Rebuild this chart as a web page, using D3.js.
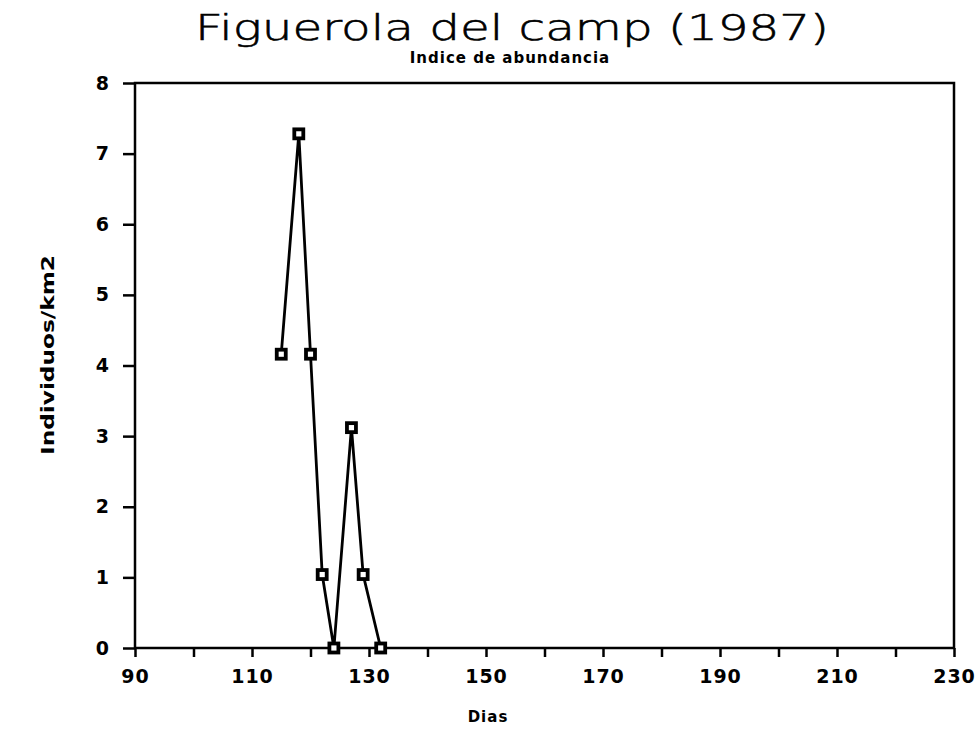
<!DOCTYPE html>
<html>
<head>
<meta charset="utf-8">
<script src="https://cdn.jsdelivr.net/npm/d3@7"></script>
<style>
  html, body { margin: 0; padding: 0; background: #fff; }
  svg { display: block; }
</style>
</head>
<body>
<svg id="chart" width="980" height="737"></svg>
<script>
// Sampling days and abundance index (individuals per km2)
const dias = [115, 118, 120, 122, 124, 127, 129, 132];
const individuos = [4.16, 7.28, 4.16, 1.04, 0, 3.12, 1.04, 0];
const xTicksMajor = [90, 110, 130, 150, 170, 190, 210, 230];
const xTicksMinor = [100, 120, 140, 160, 180, 200, 220];
const yTicks = [0, 1, 2, 3, 4, 5, 6, 7, 8];

const svg = d3.select("#chart");
const margin = { left: 135, right: 26, top: 83, bottom: 89 };
const W = 980, H = 737;

const x = d3.scaleLinear().domain([90, 230]).range([margin.left, W - margin.right]);
const y = d3.scaleLinear().domain([0, 8]).range([H - margin.bottom, margin.top]);

const boldFont = "'DejaVu Sans', Verdana, sans-serif";

// Title block (wide, thin plotter-style lettering)
svg.append("text")
  .attr("x", 512).attr("y", 40)
  .attr("text-anchor", "middle")
  .attr("textLength", 634)
  .attr("lengthAdjust", "spacingAndGlyphs")
  .style("font-family", "'DejaVu Sans', sans-serif")
  .style("font-weight", "200")
  .style("font-size", "36px")
  .style("stroke", "#000")
  .style("stroke-width", "0.6px")
  .text("Figuerola del camp (1987)");

svg.append("text")
  .attr("x", 510).attr("y", 63)
  .attr("text-anchor", "middle")
  .style("font-family", boldFont)
  .style("font-weight", "bold")
  .style("font-size", "15px")
  .style("letter-spacing", "1px")
  .text("Indice de abundancia");

// Plot frame
svg.append("rect")
  .attr("x", x(90)).attr("y", y(8))
  .attr("width", x(230) - x(90)).attr("height", y(0) - y(8))
  .attr("fill", "none").attr("stroke", "#000").attr("stroke-width", 2.5);

// X axis: ticks every 10 days, labels every 20
const xAxis = d3.axisBottom(x)
  .tickValues(xTicksMajor.concat(xTicksMinor).sort((a, b) => a - b))
  .tickSize(9)
  .tickFormat(d => xTicksMajor.includes(d) ? d : "");
const gx = svg.append("g").attr("transform", `translate(0,${y(0)})`).call(xAxis);
gx.select(".domain").remove();
gx.selectAll("line").attr("stroke", "#000").attr("stroke-width", 2.5);
gx.selectAll("text")
  .attr("y", 35).attr("dy", null)
  .style("font-family", boldFont)
  .style("font-weight", "bold")
  .style("font-size", "19px")
  .style("letter-spacing", "1px")
  .style("fill", "#000");

// Y axis
const yAxis = d3.axisLeft(y).tickValues(yTicks).tickSize(12).tickPadding(14);
const gy = svg.append("g").attr("transform", `translate(${x(90)},0)`).call(yAxis);
gy.select(".domain").remove();
gy.selectAll("line").attr("stroke", "#000").attr("stroke-width", 2.5);
gy.selectAll("text")
  .style("font-family", boldFont)
  .style("font-weight", "bold")
  .style("font-size", "19px")
  .style("fill", "#000");

// Axis titles
svg.append("text")
  .attr("x", 488).attr("y", 722)
  .attr("text-anchor", "middle")
  .style("font-family", boldFont)
  .style("font-weight", "bold")
  .style("font-size", "15px")
  .style("letter-spacing", "1px")
  .text("Dias");

svg.append("text")
  .attr("transform", "translate(54,355) rotate(-90)")
  .attr("text-anchor", "middle")
  .attr("textLength", 200)
  .attr("lengthAdjust", "spacingAndGlyphs")
  .style("font-family", boldFont)
  .style("font-weight", "bold")
  .style("font-size", "18px")
  .text("Individuos/km2");

// Series line
const pts = dias.map((d, i) => [d, individuos[i]]);
svg.append("path")
  .datum(pts)
  .attr("fill", "none")
  .attr("stroke", "#000")
  .attr("stroke-width", 2.8)
  .attr("stroke-linejoin", "round")
  .attr("d", d3.line().x(d => x(d[0])).y(d => y(d[1])));

// Square markers
svg.selectAll("rect.marker")
  .data(pts)
  .join("rect")
  .attr("class", "marker")
  .attr("x", d => x(d[0]) - 4.5)
  .attr("y", d => y(d[1]) - 4.5)
  .attr("width", 9).attr("height", 9)
  .attr("fill", "#fff")
  .attr("stroke", "#000")
  .attr("stroke-width", 3.8);
</script>
</body>
</html>
